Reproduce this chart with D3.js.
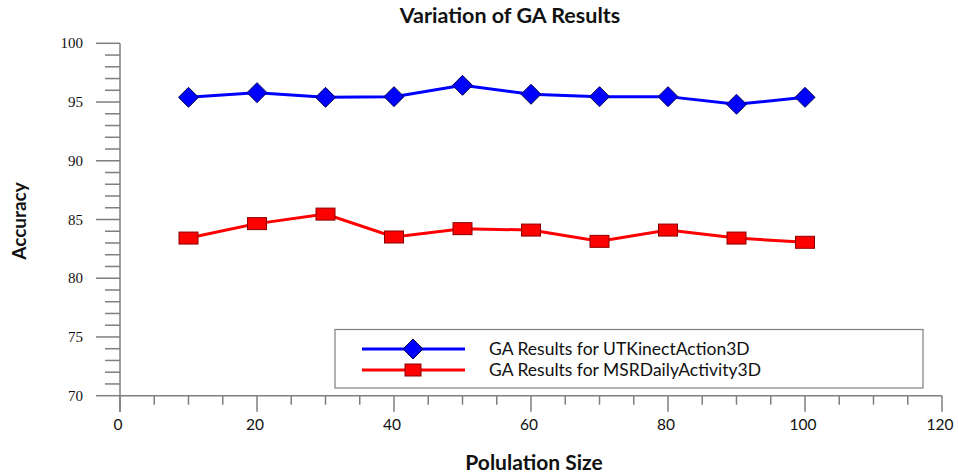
<!DOCTYPE html>
<html>
<head>
<meta charset="utf-8">
<script src="https://cdn.jsdelivr.net/npm/d3@7"></script>
<style>
  body { margin: 0; background: #fff; }
  svg { display: block; }
</style>
</head>
<body>
<div id="chart"></div>
<script>
const popSizes = [10, 20, 30, 40, 50, 60, 70, 80, 90, 100];
const utkValues = [95.40, 95.80, 95.40, 95.46, 96.42, 95.66, 95.46, 95.46, 94.81, 95.40];
const msrValues = [83.42, 84.65, 85.46, 83.51, 84.22, 84.10, 83.14, 84.10, 83.42, 83.06];
const xTicks = [0, 20, 40, 60, 80, 100, 120];
const yTicks = [70, 75, 80, 85, 90, 95, 100];
const seriesNames = ['GA Results for UTKinectAction3D', 'GA Results for MSRDailyActivity3D'];

const width = 958, height = 476;
const sansFont = 'Lato, "Open Sans", sans-serif';
const serifFont = '"Liberation Serif", "DejaVu Serif", serif';
const axisCol = '#7f7f7f';

const svg = d3.select('#chart').append('svg')
	.attr('width', width)
	.attr('height', height);

const x = d3.scaleLinear().domain([0, 120]).range([120, 942]);
const y = d3.scaleLinear().domain([70, 100]).range([395.7, 43.3]);

// title and axis labels
svg.append('text')
	.attr('x', 510).attr('y', 23)
	.attr('text-anchor', 'middle')
	.attr('font-family', sansFont)
	.attr('font-weight', 'bold')
	.attr('font-size', '21.5px')
	.attr('fill', '#111')
	.text('Variation of GA Results');

svg.append('text')
	.attr('x', 534).attr('y', 470)
	.attr('text-anchor', 'middle')
	.attr('font-family', sansFont)
	.attr('font-weight', 'bold')
	.attr('font-size', '21px')
	.attr('fill', '#111')
	.text('Polulation Size');

svg.append('text')
	.attr('transform', 'translate(26,221) rotate(-90)')
	.attr('text-anchor', 'middle')
	.attr('font-family', sansFont)
	.attr('font-weight', 'bold')
	.attr('font-size', '19px')
	.attr('fill', '#111')
	.text('Accuracy');

// y axis
const yAxis = svg.append('g');
yAxis.append('line')
	.attr('x1', x(0)).attr('x2', x(0))
	.attr('y1', y(100)).attr('y2', 412)
	.attr('stroke', axisCol).attr('stroke-width', 1.5);
yAxis.selectAll('line.minor')
	.data(d3.range(70, 101, 1).filter(v => v % 5 != 0))
	.enter().append('line')
	.attr('class', 'minor')
	.attr('x1', x(0) - 15).attr('x2', x(0))
	.attr('y1', d => y(d)).attr('y2', d => y(d))
	.attr('stroke', axisCol).attr('stroke-width', 1.5);
yAxis.selectAll('line.major')
	.data(yTicks)
	.enter().append('line')
	.attr('class', 'major')
	.attr('x1', x(0) - 24).attr('x2', x(0))
	.attr('y1', d => y(d)).attr('y2', d => y(d))
	.attr('stroke', axisCol).attr('stroke-width', 1.5);
yAxis.selectAll('text')
	.data(yTicks)
	.enter().append('text')
	.attr('x', 83).attr('y', d => y(d) + 5)
	.attr('text-anchor', 'end')
	.attr('font-family', serifFont)
	.attr('font-size', '15px')
	.attr('fill', '#111')
	.text(d => d);

// x axis
const xAxis = svg.append('g');
xAxis.append('line')
	.attr('x1', x(0)).attr('x2', x(120))
	.attr('y1', y(70)).attr('y2', y(70))
	.attr('stroke', axisCol).attr('stroke-width', 1.5);
xAxis.selectAll('line.minor')
	.data(d3.range(5, 120, 5).filter(v => v % 20 != 0))
	.enter().append('line')
	.attr('class', 'minor')
	.attr('x1', d => x(d)).attr('x2', d => x(d))
	.attr('y1', y(70)).attr('y2', y(70) + 9)
	.attr('stroke', axisCol).attr('stroke-width', 1.5);
xAxis.selectAll('line.major')
	.data(xTicks)
	.enter().append('line')
	.attr('class', 'major')
	.attr('x1', d => x(d)).attr('x2', d => x(d))
	.attr('y1', y(70)).attr('y2', y(70) + 16)
	.attr('stroke', axisCol).attr('stroke-width', 1.5);
xAxis.selectAll('text')
	.data(xTicks)
	.enter().append('text')
	.attr('x', d => x(d) - 2).attr('y', 430)
	.attr('text-anchor', 'middle')
	.attr('font-family', sansFont)
	.attr('font-size', '15.5px')
	.attr('fill', '#111')
	.text(d => d);

// series
const lineFn = d3.line()
	.x((d, i) => x(popSizes[i]))
	.y(d => y(d));

svg.append('path').datum(utkValues)
	.attr('d', lineFn)
	.attr('fill', 'none')
	.attr('stroke', '#0000ff')
	.attr('stroke-width', 3);

svg.append('path').datum(msrValues)
	.attr('d', lineFn)
	.attr('fill', 'none')
	.attr('stroke', '#ff0000')
	.attr('stroke-width', 3);

const diamond = 'M0,-10L10,0L0,10L-10,0Z';

svg.selectAll('path.diamond')
	.data(utkValues)
	.enter().append('path')
	.attr('class', 'diamond')
	.attr('d', diamond)
	.attr('transform', (d, i) => `translate(${x(popSizes[i])},${y(d)})`)
	.attr('fill', '#0000ff')
	.attr('stroke', '#000050')
	.attr('stroke-width', 1);

svg.selectAll('rect.sq')
	.data(msrValues)
	.enter().append('rect')
	.attr('class', 'sq')
	.attr('x', (d, i) => x(popSizes[i]) - 9.5)
	.attr('y', d => y(d) - 6)
	.attr('width', 19).attr('height', 12)
	.attr('fill', '#ff0000')
	.attr('stroke', '#8b0000')
	.attr('stroke-width', 1);

// legend
const legend = svg.append('g');
legend.append('rect')
	.attr('x', 335).attr('y', 329.5)
	.attr('width', 588).attr('height', 58.5)
	.attr('fill', '#fff')
	.attr('stroke', axisCol)
	.attr('stroke-width', 1.2);

const rows = [349, 370];
const cols = ['#0000ff', '#ff0000'];
rows.forEach((ry, i) => {
	legend.append('line')
		.attr('x1', 362).attr('x2', 465)
		.attr('y1', ry).attr('y2', ry)
		.attr('stroke', cols[i]).attr('stroke-width', 3);
	if (i == 0) {
		legend.append('path')
			.attr('d', diamond)
			.attr('transform', `translate(413,${ry})`)
			.attr('fill', '#0000ff')
			.attr('stroke', '#000050');
	} else {
		legend.append('rect')
			.attr('x', 413 - 8).attr('y', ry - 6)
			.attr('width', 16).attr('height', 12)
			.attr('fill', '#ff0000')
			.attr('stroke', '#8b0000');
	}
	legend.append('text')
		.attr('x', 489).attr('y', ry + 6)
		.attr('font-family', sansFont)
		.attr('font-size', '17.5px')
		.attr('fill', '#111')
		.text(seriesNames[i]);
});
</script>
</body>
</html>
